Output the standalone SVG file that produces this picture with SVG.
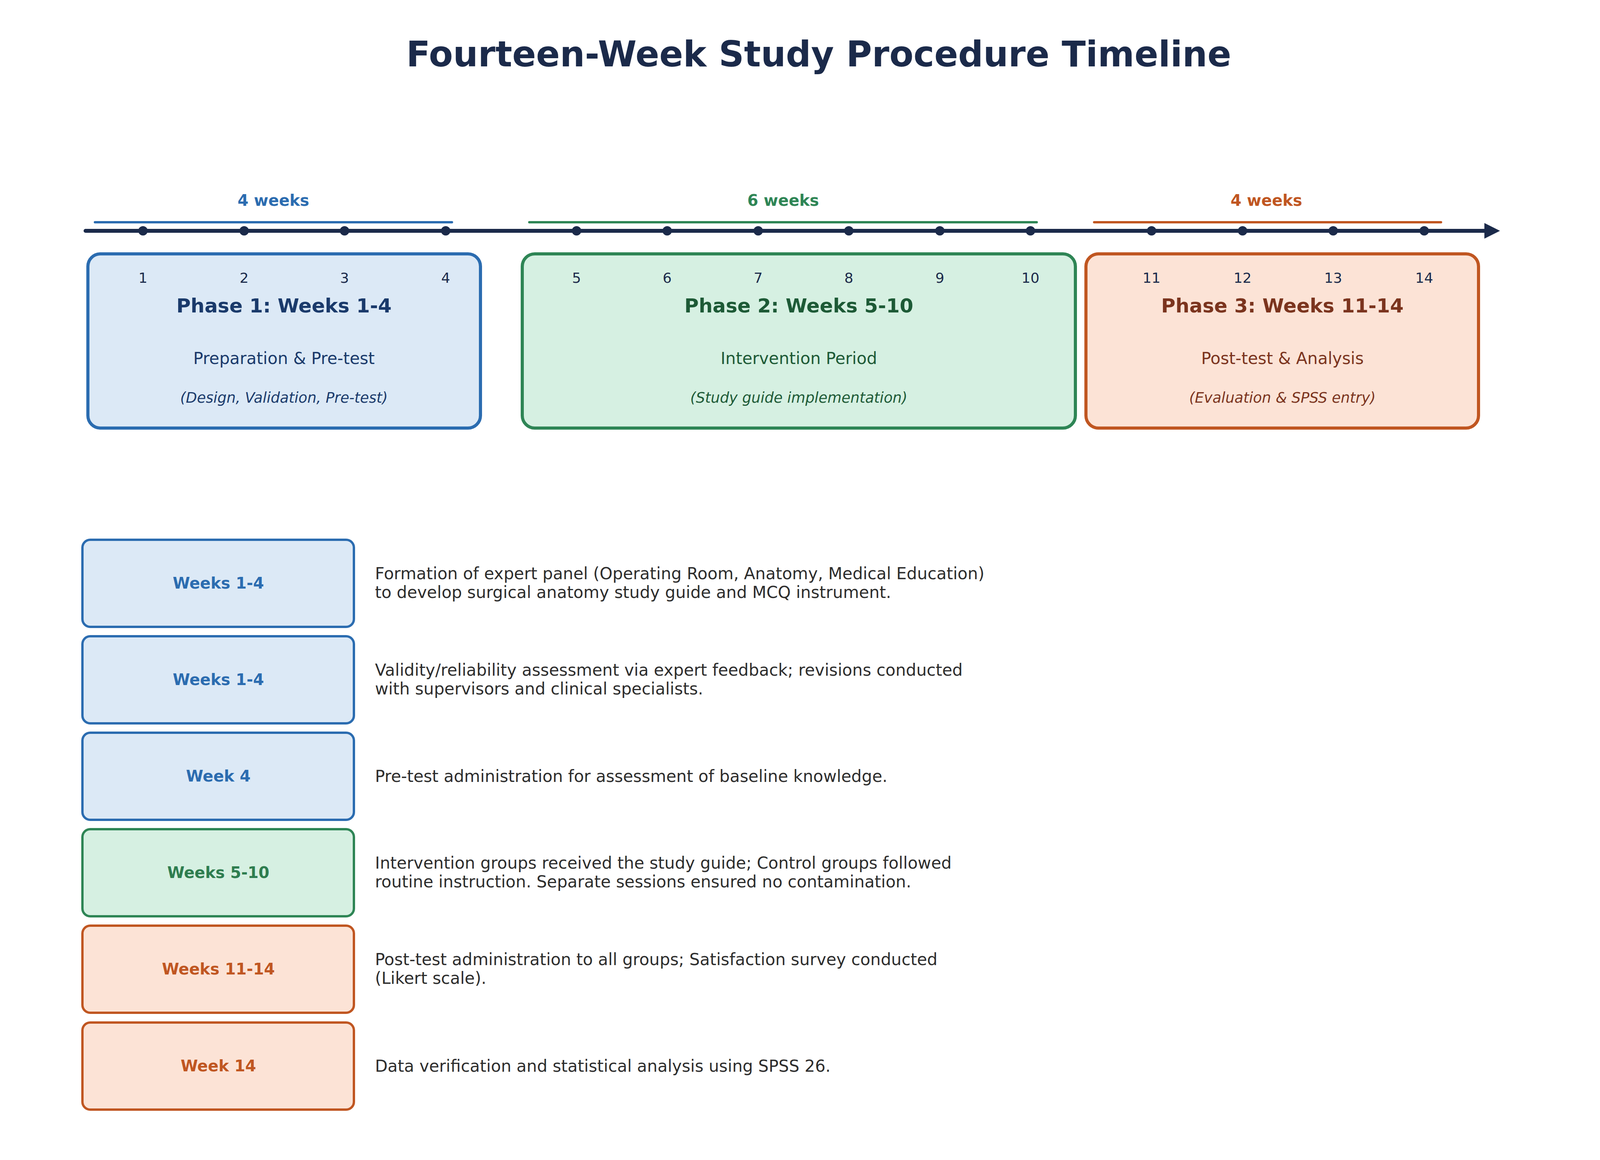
<svg xmlns="http://www.w3.org/2000/svg" width="4170" height="2970" viewBox="0 0 4170 2970">
<style>
text{font-family:"DejaVu Sans","Noto Sans",sans-serif}
.b{fill:#dce9f6;stroke:#2b6cb0}.g{fill:#d6f0e2;stroke:#2e8555}.o{fill:#fce3d6;stroke:#c05621}
.pb{stroke-width:8}.rb{stroke-width:6}
.tk{font-size:36px;fill:#1b2a4a;text-anchor:middle}
.pt{font-size:50px;font-weight:bold;text-anchor:middle}
.ps{font-size:42px;text-anchor:middle}
.pi{font-size:37px;font-style:italic;text-anchor:middle}
.wl{font-size:40px;font-weight:bold;text-anchor:middle}
.ds{font-size:42px;fill:#2d2d2d}
.dot{fill:#1b2a4a}
</style>
<defs><marker id="ah" markerWidth="4" markerHeight="4" refX="2" refY="2" orient="auto"><path d="M0,0L4,2L0,4z" fill="#1b2a4a"/></marker></defs>
<rect width="4170" height="2970" fill="#fff"/>
<text x="2096" y="170" font-size="90" font-weight="bold" fill="#1b2a4a" text-anchor="middle">Fourteen-Week Study Procedure Timeline</text>
<g id="connectors">
<line x1="219" y1="591" x2="3820" y2="591" stroke="#1b2a4a" stroke-width="10" stroke-linecap="round" marker-end="url(#ah)"/>
<line x1="243" y1="569" x2="1157" y2="569" stroke="#2b6cb0" stroke-width="6" stroke-linecap="round"/>
<line x1="1355" y1="569" x2="2654" y2="569" stroke="#2e8555" stroke-width="6" stroke-linecap="round"/>
<line x1="2801" y1="569" x2="3689" y2="569" stroke="#c05621" stroke-width="6" stroke-linecap="round"/>
</g>
<g id="ticks">
<circle class="dot" cx="366" cy="591" r="12"/><circle class="dot" cx="625" cy="591" r="12"/><circle class="dot" cx="882" cy="591" r="12"/><circle class="dot" cx="1141" cy="591" r="12"/>
<circle class="dot" cx="1476" cy="591" r="12"/><circle class="dot" cx="1708" cy="591" r="12"/><circle class="dot" cx="1941" cy="591" r="12"/><circle class="dot" cx="2173" cy="591" r="12"/><circle class="dot" cx="2406" cy="591" r="12"/><circle class="dot" cx="2638" cy="591" r="12"/>
<circle class="dot" cx="2948" cy="591" r="12"/><circle class="dot" cx="3181" cy="591" r="12"/><circle class="dot" cx="3413" cy="591" r="12"/><circle class="dot" cx="3646" cy="591" r="12"/>
</g>
<g id="durations" font-size="40" font-weight="bold" text-anchor="middle">
<text x="700" y="527" fill="#2b6cb0">4 weeks</text>
<text x="2005" y="527" fill="#2e8555">6 weeks</text>
<text x="3242" y="527" fill="#c05621">4 weeks</text>
</g>
<g id="phase1">
<rect class="b pb" x="225" y="650" width="1005" height="446" rx="32"/>
<text class="tk" x="366" y="724">1</text><text class="tk" x="625" y="724">2</text><text class="tk" x="882" y="724">3</text><text class="tk" x="1141" y="724">4</text>
<text class="pt" x="727" y="800" fill="#1a3a6b">Phase 1: Weeks 1-4</text>
<text class="ps" x="727" y="932" fill="#1a3a6b">Preparation &amp; Pre-test</text>
<text class="pi" x="727" y="1031" fill="#1a3a6b">(Design, Validation, Pre-test)</text>
</g>
<g id="phase2">
<rect class="g pb" x="1337" y="650" width="1416" height="446" rx="32"/>
<text class="tk" x="1476" y="724">5</text><text class="tk" x="1708" y="724">6</text><text class="tk" x="1941" y="724">7</text><text class="tk" x="2173" y="724">8</text><text class="tk" x="2406" y="724">9</text><text class="tk" x="2638" y="724">10</text>
<text class="pt" x="2045" y="800" fill="#1d5a36">Phase 2: Weeks 5-10</text>
<text class="ps" x="2045" y="932" fill="#1d5a36">Intervention Period</text>
<text class="pi" x="2045" y="1031" fill="#1d5a36">(Study guide implementation)</text>
</g>
<g id="phase3">
<rect class="o pb" x="2780" y="650" width="1005" height="446" rx="32"/>
<text class="tk" x="2948" y="724">11</text><text class="tk" x="3181" y="724">12</text><text class="tk" x="3413" y="724">13</text><text class="tk" x="3646" y="724">14</text>
<text class="pt" x="3283" y="800" fill="#7b341e">Phase 3: Weeks 11-14</text>
<text class="ps" x="3283" y="932" fill="#7b341e">Post-test &amp; Analysis</text>
<text class="pi" x="3283" y="1031" fill="#7b341e">(Evaluation &amp; SPSS entry)</text>
</g>
<g id="row1">
<rect class="b rb" x="211" y="1382" width="695" height="223" rx="20"/>
<text class="wl" x="559" y="1507" fill="#2b6cb0">Weeks 1-4</text>
<text class="ds" x="960" y="1483">Formation of expert panel (Operating Room, Anatomy, Medical Education)</text>
<text class="ds" x="960" y="1531">to develop surgical anatomy study guide and MCQ instrument.</text>
</g>
<g id="row2">
<rect class="b rb" x="211" y="1629" width="695" height="223" rx="20"/>
<text class="wl" x="559" y="1754" fill="#2b6cb0">Weeks 1-4</text>
<text class="ds" x="960" y="1730">Validity/reliability assessment via expert feedback; revisions conducted</text>
<text class="ds" x="960" y="1778">with supervisors and clinical specialists.</text>
</g>
<g id="row3">
<rect class="b rb" x="211" y="1876" width="695" height="223" rx="20"/>
<text class="wl" x="559" y="2001" fill="#2b6cb0">Week 4</text>
<text class="ds" x="960" y="2002">Pre-test administration for assessment of baseline knowledge.</text>
</g>
<g id="row4">
<rect class="g rb" x="211" y="2123" width="695" height="223" rx="20"/>
<text class="wl" x="559" y="2248" fill="#2e7d4f">Weeks 5-10</text>
<text class="ds" x="960" y="2224">Intervention groups received the study guide; Control groups followed</text>
<text class="ds" x="960" y="2272">routine instruction. Separate sessions ensured no contamination.</text>
</g>
<g id="row5">
<rect class="o rb" x="211" y="2370" width="695" height="223" rx="20"/>
<text class="wl" x="559" y="2495" fill="#c05621">Weeks 11-14</text>
<text class="ds" x="960" y="2471">Post-test administration to all groups; Satisfaction survey conducted</text>
<text class="ds" x="960" y="2519">(Likert scale).</text>
</g>
<g id="row6">
<rect class="o rb" x="211" y="2618" width="695" height="223" rx="20"/>
<text class="wl" x="559" y="2743" fill="#c05621">Week 14</text>
<text class="ds" x="960" y="2744">Data verification and statistical analysis using SPSS 26.</text>
</g>
</svg>
